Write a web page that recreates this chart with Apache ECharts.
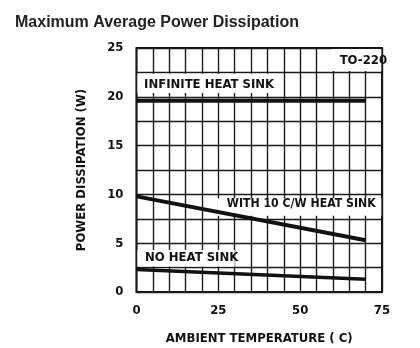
<!DOCTYPE html>
<html><head><meta charset="utf-8">
<script src="https://cdn.jsdelivr.net/npm/echarts@6/dist/echarts.min.js"></script>
<style>html,body{margin:0;padding:0;background:#fff}#c{width:420px;height:348px}</style>
</head><body><div id="c"></div>
<script>
const temps = [0, 70];
const infiniteSink = [19.6, 19.6];
const withSink10 = [9.8, 5.3];
const noSink = [2.3, 1.3];
const xTickLabels = [0, 25, 50, 75];
const yTickLabels = [0, 5, 10, 15, 20, 25];
const notes = ['TO-220', 'INFINITE HEAT SINK', 'WITH 10 C/W HEAT SINK', 'NO HEAT SINK'];

const FONT = '"DejaVu Sans Condensed", "Liberation Sans Narrow", sans-serif';
const pair = (ys) => temps.map((t, i) => [t, ys[i]]);
const chart = echarts.init(document.getElementById('c'), null, {renderer: 'canvas'});
const lineStyle = (w) => ({color: '#111', width: w});
chart.setOption({
  animation: false,
  backgroundColor: '#fff',
  title: {text: 'Maximum Average Power Dissipation', left: 10, top: 10,
    textStyle: {fontFamily: 'Liberation Sans, Arial, sans-serif', fontSize: 16, fontWeight: 'bold', color: '#222'}},
  grid: {left: 136.5, right: 38, top: 48, bottom: 56, show: true, borderColor: '#111', borderWidth: 2,
    containLabel: false, outerBoundsMode: 'none'},
  xAxis: {type: 'value', min: 0, max: 75, interval: 5,
    name: 'AMBIENT TEMPERATURE ( C)', nameLocation: 'middle', nameGap: 40,
    nameTextStyle: {fontFamily: FONT, fontWeight: 'bold', fontSize: 13, color: '#111'},
    axisLine: {show: false}, axisTick: {show: false},
    axisLabel: {fontFamily: FONT, fontWeight: 'bold', fontSize: 13, color: '#111', margin: 12,
      formatter: v => xTickLabels.includes(v) ? String(v) : ''},
    splitLine: {show: true, lineStyle: {color: '#1a1a1a', width: 1.4}}},
  yAxis: {type: 'value', min: 0, max: 25, interval: 2.5,
    name: 'POWER DISSIPATION (W)', nameLocation: 'middle', nameGap: 48, nameRotate: 90,
    nameTextStyle: {fontFamily: FONT, fontWeight: 'bold', fontSize: 13, color: '#111'},
    axisLine: {show: false}, axisTick: {show: false},
    axisLabel: {fontFamily: FONT, fontWeight: 'bold', fontSize: 13, color: '#111', margin: 13,
      padding: [4, 0, 0, 0],
      formatter: v => yTickLabels.includes(v) ? String(v) : ''},
    splitLine: {show: true, lineStyle: {color: '#1a1a1a', width: 1.4}}},
  series: [
    {type: 'line', data: pair(infiniteSink), symbol: 'none', lineStyle: lineStyle(4), z: 5},
    {type: 'line', data: pair(withSink10), symbol: 'none', lineStyle: lineStyle(4), z: 5},
    {type: 'line', data: pair(noSink), symbol: 'none', lineStyle: lineStyle(3.5), z: 5}
  ]
});

// annotation boxes (white backgrounds covering the grid) anchored to data coordinates
function px(x, y) { return chart.convertToPixel({gridIndex: 0}, [x, y]); }
function box(x0, y0, x1, y1) {
  const a = px(x0, y0), b = px(x1, y1);
  return {type: 'rect', z: 1, silent: true,
    shape: {x: Math.min(a[0], b[0]), y: Math.min(a[1], b[1]), width: Math.abs(b[0] - a[0]), height: Math.abs(b[1] - a[1])},
    style: {fill: '#fff'}};
}
function label(txt, x, y, align, size) {
  const p = px(x, y);
  return {type: 'text', z: 3, silent: true, x: p[0], y: p[1],
    style: {text: txt, fontFamily: FONT, fontWeight: 'bold', fontSize: size || 13, fill: '#111',
      align: align || 'left', verticalAlign: 'middle'}};
}
chart.setOption({graphic: [
  box(59.7, 22.65, 74.8, 24.9),
  box(0.3, 20.4, 44.7, 22.35),
  box(24.7, 7.8, 74.8, 9.6),
  box(0.3, 2.6, 30, 4.3),
  label(notes[0], 69.3, 23.7, 'center'),
  label(notes[1], 2.3, 21.25),
  label(notes[2], 27.6, 9.0, 'left', 12.2),
  label(notes[3], 2.6, 3.55)
]});
</script></body></html>
